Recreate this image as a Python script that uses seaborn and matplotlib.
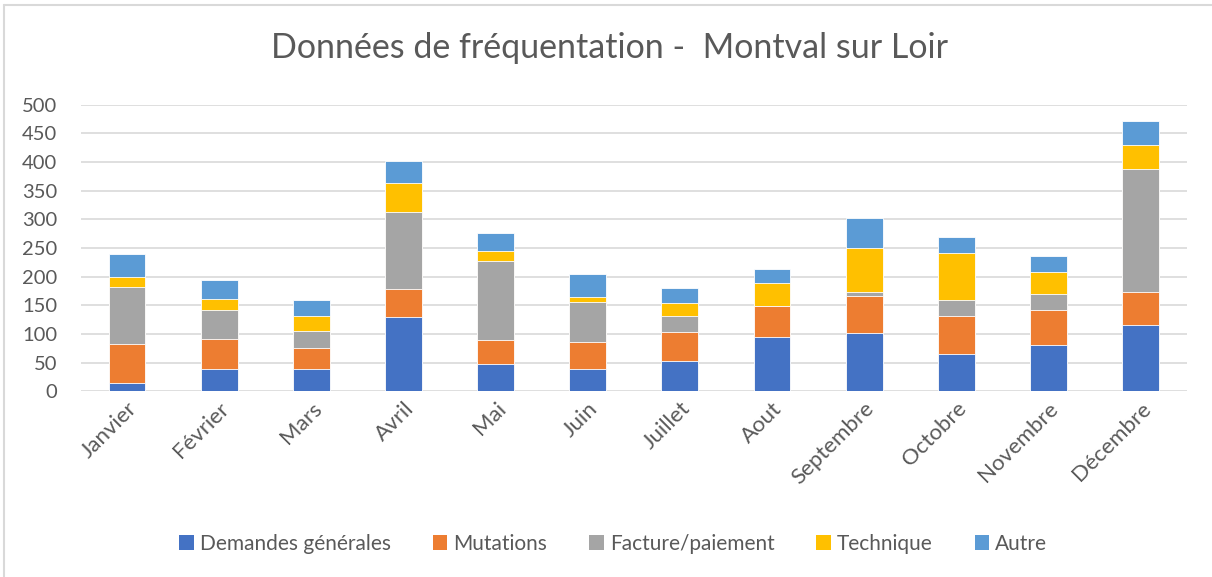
import pandas as pd
import seaborn as sns
import matplotlib.pyplot as plt
from matplotlib.patches import Patch
from matplotlib.lines import Line2D

sns.set_style("white")
plt.rcParams["font.family"] = ["Lato", "DejaVu Sans"]

mois = ["Janvier", "Février", "Mars", "Avril", "Mai", "Juin", "Juillet",
        "Aout", "Septembre", "Octobre", "Novembre", "Décembre"]
categories = ["Demandes générales", "Mutations", "Facture/paiement", "Technique", "Autre"]
demandes = [14, 39, 39, 129, 48, 39, 53, 94, 102, 65, 81, 116]
mutations = [68, 53, 37, 49, 41, 47, 51, 54, 65, 66, 61, 57]
facture = [100, 50, 29, 134, 138, 70, 27, 1, 7, 28, 27, 215]
technique = [17, 19, 26, 52, 17, 9, 23, 40, 76, 82, 40, 42]
autre = [40, 34, 28, 37, 33, 39, 26, 25, 53, 29, 27, 42]
couleurs = ["#4472C4", "#ED7D31", "#A5A5A5", "#FFC000", "#5B9BD5"]

df = pd.DataFrame({"Mois": mois, "Demandes générales": demandes, "Mutations": mutations,
                   "Facture/paiement": facture, "Technique": technique, "Autre": autre})
cumul = df[categories].cumsum(axis=1)

fig = plt.figure(figsize=(12.12, 5.77), dpi=100)
ax = fig.add_axes([0.0668, 0.3218, 0.9122, 0.4967])

# stacked bars: draw cumulative totals from the top category down
for cat, col in reversed(list(zip(categories, couleurs))):
    sns.barplot(x=df["Mois"], y=cumul[cat], color=col, width=0.4, ax=ax,
                saturation=1, edgecolor="white", linewidth=0.6, zorder=3)

ax.set_ylim(0, 500)
ax.set_xlim(-0.5, 11.5)
ax.set_yticks(range(0, 501, 50))
ax.yaxis.grid(True, color="#d9d9d9", linewidth=1.2, zorder=0)
ax.set_axisbelow(True)
sns.despine(ax=ax, left=True, bottom=True)
ax.set_xlabel("")
ax.set_ylabel("")
ax.tick_params(axis="y", length=0, labelsize=14.5, labelcolor="#595959", pad=17)
ax.tick_params(axis="x", length=0, labelsize=16, labelcolor="#595959", pad=5)
plt.setp(ax.get_xticklabels(), rotation=45, ha="right", rotation_mode="anchor")

fig.suptitle("Données de fréquentation -  Montval sur Loir", x=0.503, y=0.917,
             va="center", fontsize=24.5, color="#595959")

handles = [Patch(facecolor=c, edgecolor="none") for c in couleurs]
fig.legend(handles, categories, loc="center", bbox_to_anchor=(0.506, 0.058), ncol=5,
           frameon=False, fontsize=15, labelcolor="#595959", handlelength=0.7,
           handleheight=0.7, handletextpad=0.3, columnspacing=2.0)

fig.add_artist(Line2D([0.0037, 0.0037], [0, 0.991], color="#d9d9d9", linewidth=1.5))
fig.add_artist(Line2D([0.0037, 1], [0.991, 0.991], color="#d9d9d9", linewidth=1.5))

plt.savefig("out.png", dpi=100)
